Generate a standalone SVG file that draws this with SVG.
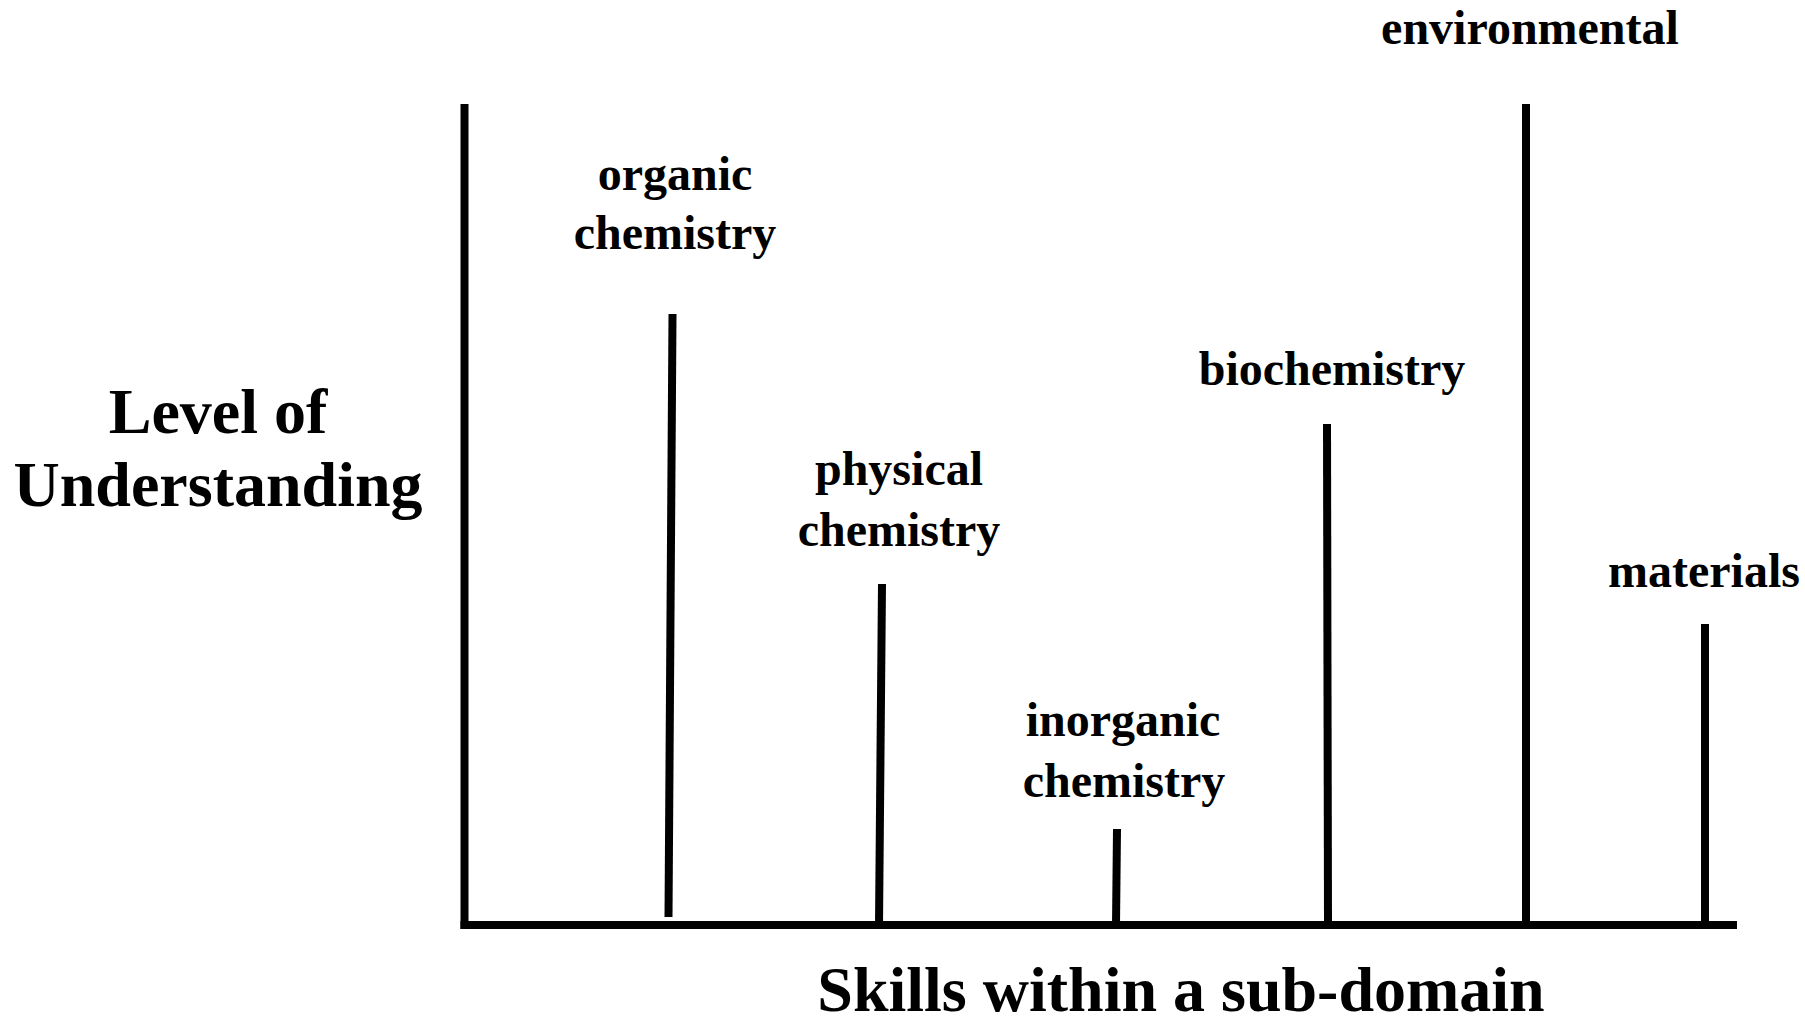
<svg xmlns="http://www.w3.org/2000/svg" width="1805" height="1019" viewBox="0 0 1805 1019">
<style>
  .lbl { font-family: "Liberation Serif", "Times New Roman", serif; font-weight: bold; font-size: 48px; fill: #000; text-anchor: middle; }
  .axl { font-family: "Liberation Serif", "Times New Roman", serif; font-weight: bold; font-size: 64px; fill: #000; text-anchor: middle; }
  .bar { stroke: #000; stroke-width: 8; fill: none; stroke-linecap: butt; }
</style>
<rect width="1805" height="1019" fill="#fff"/>
<g id="axes">
  <line class="bar" x1="464.5" y1="104" x2="464.5" y2="929"/>
  <line class="bar" x1="460.5" y1="925" x2="1737" y2="925"/>
</g>
<g id="axis-labels">
  <text class="axl" x="218" y="433">Level of</text>
  <text class="axl" x="218" y="506">Understanding</text>
  <text class="axl" x="1181" y="1011">Skills within a sub-domain</text>
</g>
<g id="organic">
  <line class="bar" x1="672.5" y1="314" x2="668.5" y2="917"/>
  <text class="lbl" x="675" y="190">organic</text>
  <text class="lbl" x="675" y="249">chemistry</text>
</g>
<g id="physical">
  <line class="bar" x1="882" y1="584" x2="879" y2="925"/>
  <text class="lbl" x="899" y="485">physical</text>
  <text class="lbl" x="899" y="546">chemistry</text>
</g>
<g id="inorganic">
  <line class="bar" x1="1117" y1="829" x2="1116" y2="925"/>
  <text class="lbl" x="1123" y="736">inorganic</text>
  <text class="lbl" x="1124" y="797">chemistry</text>
</g>
<g id="biochemistry">
  <line class="bar" x1="1327" y1="424" x2="1328" y2="925"/>
  <text class="lbl" x="1332" y="385">biochemistry</text>
</g>
<g id="environmental">
  <line class="bar" x1="1526" y1="104" x2="1526" y2="925"/>
  <text class="lbl" x="1530" y="44">environmental</text>
</g>
<g id="materials">
  <line class="bar" x1="1705" y1="624" x2="1705" y2="925"/>
  <text class="lbl" x="1704" y="587">materials</text>
</g>
</svg>
